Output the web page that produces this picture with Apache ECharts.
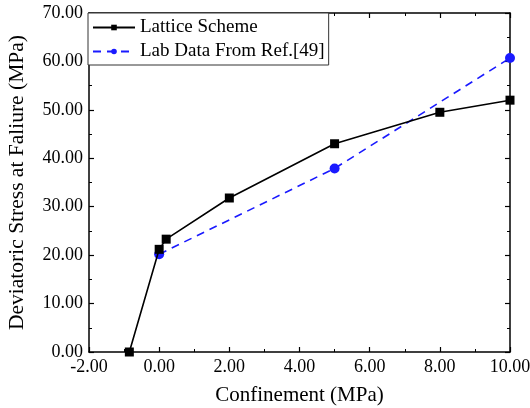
<!DOCTYPE html>
<html>
<head>
<meta charset="utf-8">
<script src="https://cdn.jsdelivr.net/npm/echarts@6/dist/echarts.min.js"></script>
<style>
  html, body { margin: 0; padding: 0; background: #fff; }
  #chart { width: 530px; height: 408px; }
</style>
</head>
<body>
<div id="chart"></div>
<script>
// Confinement (MPa) values for each series
const latticeConfinement = [-0.85, 0, 0.2, 2, 5, 8, 10];
const latticeStress = [0, 21.2, 23.3, 31.8, 43.0, 49.5, 52.0];
const labConfinement = [0, 5, 10];
const labStress = [20.2, 37.9, 60.7];

const seriesNames = ['Lattice Scheme', 'Lab Data From Ref.[49]'];
const xTitle = 'Confinement (MPa)';
const yTitle = 'Deviatoric Stress at Faliure (MPa)';

const FONT = '"Liberation Serif", "Times New Roman", serif';
const pairs = (xs, ys) => xs.map((x, i) => [x, ys[i]]);

const axisBase = {
  axisLine: { show: true, onZero: false, lineStyle: { color: '#000', width: 1.5 } },
  axisTick: { show: true, inside: true, length: 5, lineStyle: { color: '#000', width: 1.2 } },
  minorTick: { show: true, splitNumber: 2, length: 3, lineStyle: { color: '#000', width: 1 } },
  splitLine: { show: false },
  minorSplitLine: { show: false }
};

const chart = echarts.init(document.getElementById('chart'), null, { renderer: 'canvas' });
chart.setOption({
  animation: false,
  backgroundColor: '#fff',
  textStyle: { fontFamily: FONT },
  grid: { left: 89, right: 20, top: 13, bottom: 56, containLabel: false, outerBoundsMode: 'none' },
  legend: {
    orient: 'vertical',
    left: 88,
    top: 13,
    padding: [5, 4, 4, 4],
    itemGap: 5,
    itemWidth: 42,
    itemHeight: 7,
    borderColor: '#333',
    borderWidth: 1,
    backgroundColor: '#fff',
    textStyle: { fontFamily: FONT, fontSize: 19, color: '#000', padding: [0, 0, 0, 0] },
    data: seriesNames
  },
  xAxis: [
    Object.assign({}, axisBase, {
      type: 'value', min: -2, max: 10, interval: 2,
      name: xTitle, nameLocation: 'middle', nameGap: 33,
      nameTextStyle: { fontFamily: FONT, fontSize: 21, color: '#000' },
      axisLabel: { fontFamily: FONT, fontSize: 18, color: '#000', margin: 6,
        formatter: v => v.toFixed(2) }
    }),
    Object.assign({}, axisBase, {
      type: 'value', min: -2, max: 10, interval: 2, position: 'top',
      axisLabel: { show: false }
    })
  ],
  yAxis: [
    Object.assign({}, axisBase, {
      type: 'value', min: 0, max: 70, interval: 10,
      name: yTitle, nameLocation: 'middle', nameGap: 61,
      nameTextStyle: { fontFamily: FONT, fontSize: 21.5, color: '#000' },
      axisLabel: { fontFamily: FONT, fontSize: 18, color: '#000', margin: 6,
        formatter: v => v.toFixed(2) }
    }),
    Object.assign({}, axisBase, {
      type: 'value', min: 0, max: 70, interval: 10, position: 'right',
      axisLabel: { show: false }
    })
  ],
  series: [
    {
      name: seriesNames[0],
      type: 'line',
      data: pairs(latticeConfinement, latticeStress),
      symbol: 'rect',
      symbolSize: 9,
      color: '#000',
      lineStyle: { color: '#000', width: 1.6 },
      itemStyle: { color: '#000' },
      z: 3
    },
    {
      name: seriesNames[1],
      type: 'line',
      data: pairs(labConfinement, labStress),
      symbol: 'circle',
      symbolSize: 10,
      color: '#1a1aff',
      lineStyle: { color: '#1a1aff', width: 1.6, type: [8, 6] },
      itemStyle: { color: '#1a1aff' },
      z: 2
    }
  ]
});
</script>
</body>
</html>
